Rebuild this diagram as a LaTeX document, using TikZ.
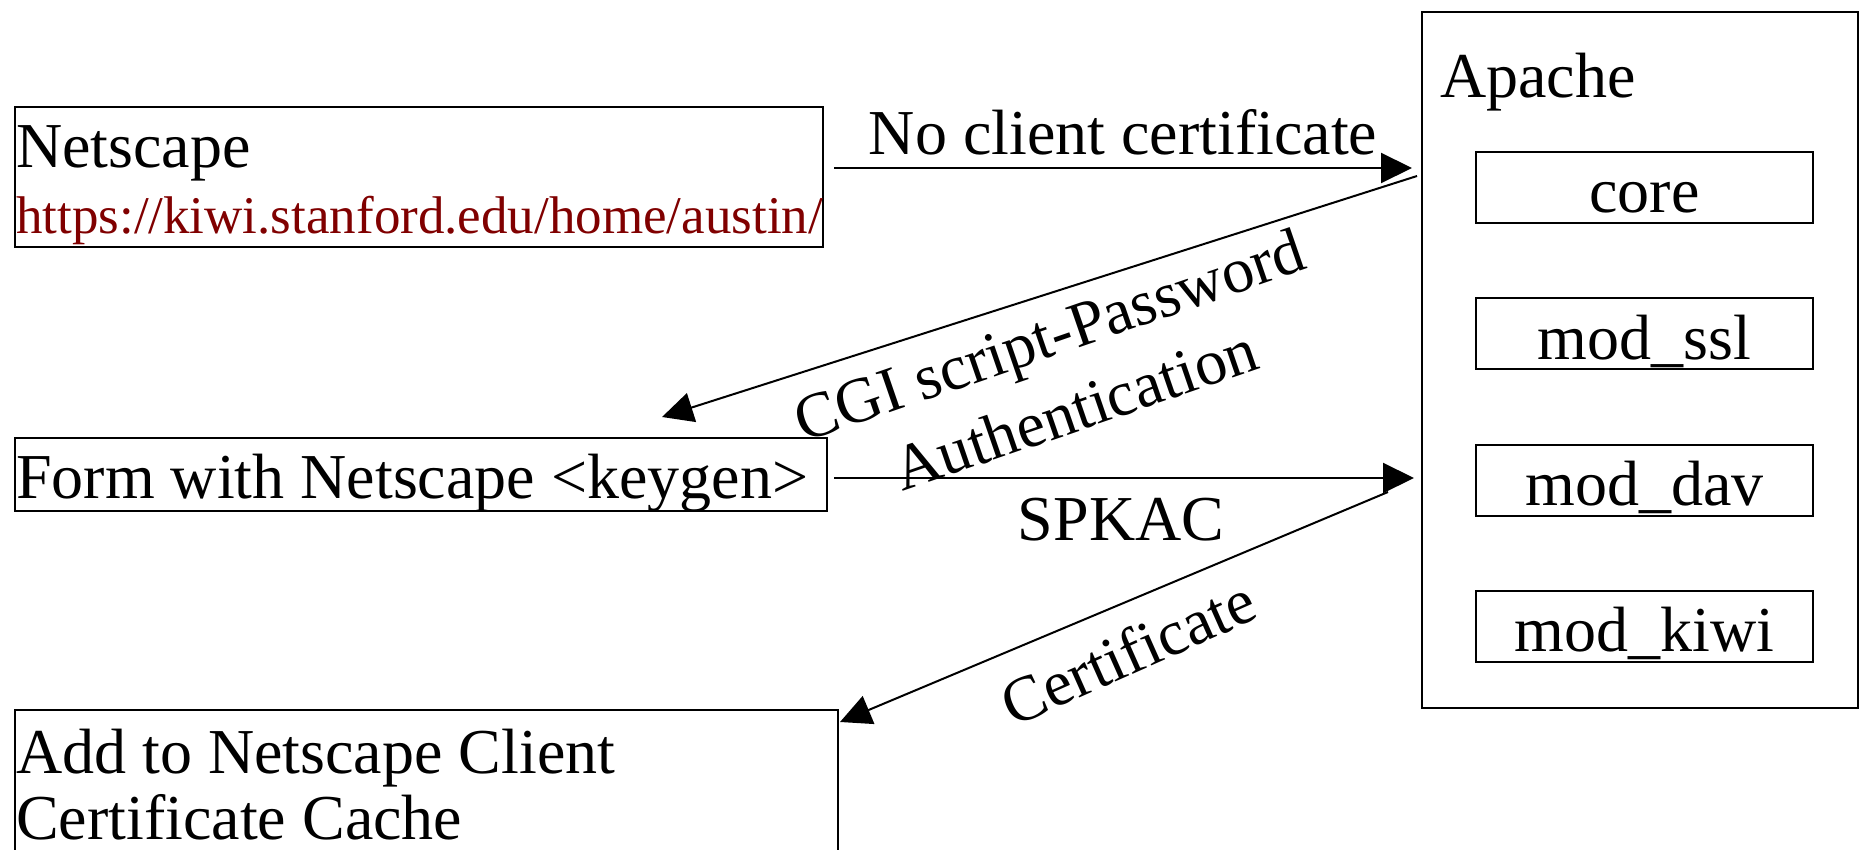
\documentclass[tikz,border=0pt]{standalone}
\usepackage{fontspec}
\setmainfont{Liberation Serif}
\usetikzlibrary{arrows.meta}
\definecolor{urlred}{RGB}{128,0,0}
\begin{document}
\begin{tikzpicture}[x=1pt,y=-1pt,
  box/.style={draw,line width=2pt,inner sep=0pt,anchor=north west},
  txt/.style={inner sep=0pt,anchor=base west,font=\fontsize{64}{80}\selectfont},
  lbl/.style={inner sep=0pt,font=\fontsize{64}{79}\selectfont},
  modbox/.style={draw,line width=2pt,inner sep=0pt,minimum width=337pt,text height=61pt,text depth=10pt,font=\fontsize{64}{80}\selectfont},
  arr/.style={line width=2pt,-{Triangle[length=31pt,width=30pt]}}]
\useasboundingbox (0,0) rectangle (1860,850);
\clip (0,0) rectangle (1860,850);
% client side boxes
\node[box,minimum width=808pt,minimum height=140pt] (ns) at (14,106) {};
\node[txt] (nst) at (16,168) {Netscape};
\node[txt,font=\fontsize{53}{60}\selectfont,text=urlred] (url) at (16,234) {https://kiwi.stanford.edu/home/austin/};
\node[box,minimum width=812pt,minimum height=73pt] (form) at (14,437) {};
\node[txt] (formt) at (16,498) {Form with Netscape <keygen>};
\node[box,minimum width=823pt,minimum height=170pt] (add) at (14,709) {};
\node[txt] (addt1) at (16,773) {Add to Netscape Client};
\node[txt] (addt2) at (16,839) {Certificate Cache};
% server
\node[box,minimum width=436pt,minimum height=696pt] (apache) at (1421,11) {};
\node[txt] (apt) at (1440,98) {Apache};
\node[modbox] (core) at (1644.5,187.5) {core};
\node[modbox] (ssl) at (1644.5,333.5) {mod\_ssl};
\node[modbox] (dav) at (1644.5,480) {mod\_dav};
\node[modbox] (kiwi) at (1644.5,626) {mod\_kiwi};
% connector ends
\coordinate (a1s) at (834,168); \coordinate (a1e) at (1412,168);
\coordinate (a2s) at (1417,176); \coordinate (a2e) at (662,417);
\coordinate (a3s) at (834,478); \coordinate (a3e) at (1414,478);
\coordinate (a4s) at (1388,492); \coordinate (a4e) at (840,722);
\draw[arr] (a1s) -- (a1e) node[midway,anchor=base,yshift=13pt,lbl] (l1) {No client certificate};
\draw[arr] (a2s) -- (a2e);
\draw[arr] (a3s) -- (a3e);
\draw[arr] (a4s) -- (a4e);
\node[lbl,align=center,rotate=19] (l2) at (1062,372) {CGI script-Password\\Authentication};
\node[lbl,anchor=base] (l3) at (1121,540) {SPKAC};
\node[lbl,rotate=24] (l4) at (1128,652) {Certificate};
\end{tikzpicture}
\end{document}
